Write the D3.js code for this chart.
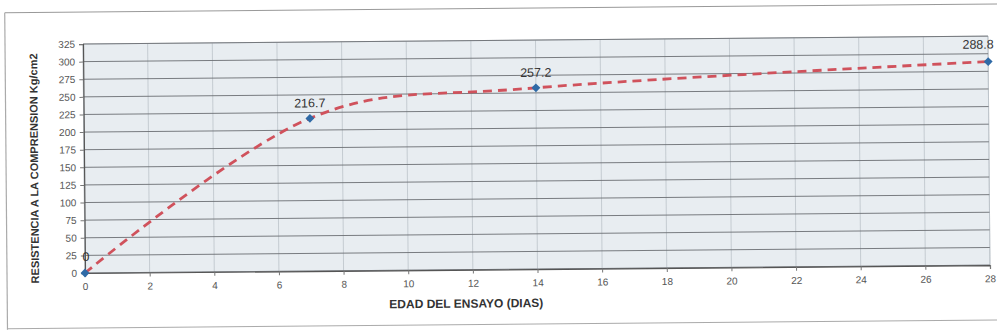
<!DOCTYPE html>
<html><head><meta charset="utf-8">
<script src="https://cdn.jsdelivr.net/npm/d3@7"></script>
<style>body{margin:0;background:#fff}svg{display:block}</style>
</head><body>
<svg id="c" width="997" height="335"></svg>
<script>
const days = [0, 7, 14, 28];
const strength = [0, 216.7, 257.2, 288.8];
const labels = ["0", "216.7", "257.2", "288.8"];
const xTicks = [0,2,4,6,8,10,12,14,16,18,20,22,24,26,28];
const yTicks = [0,25,50,75,100,125,150,175,200,225,250,275,300,325];
const xTitle = "EDAD DEL ENSAYO (DIAS)";
const yTitle = "RESISTENCIA A LA COMPRENSION Kg/cm2";

const root = d3.select("#c");
const font = "'Liberation Sans', Arial, sans-serif";
const x = d3.scaleLinear().domain([0,28]).range([85,990]);
const y = d3.scaleLinear().domain([0,325]).range([273,44]);

// scanned page is slightly tilted
const svg = root.append("g").attr("transform","rotate(-0.5,85,273)");

// frame of the document
svg.append("line").attr("x1",7).attr("x2",1010).attr("y1",12).attr("y2",12).attr("stroke","#999").attr("stroke-width",1);
svg.append("line").attr("x1",7).attr("x2",7).attr("y1",12).attr("y2",329).attr("stroke","#aaa").attr("stroke-width",1.2);
svg.append("line").attr("x1",7).attr("x2",1010).attr("y1",328).attr("y2",328).attr("stroke","#aaa").attr("stroke-width",1);

// plot area
svg.append("rect").attr("x",x(0)).attr("y",y(325)).attr("width",x(28)-x(0)).attr("height",y(0)-y(325))
  .attr("fill","#e8edf1").attr("stroke","#b8bec4").attr("stroke-width",0.8);

// vertical grid
svg.append("g").selectAll("line").data(xTicks).join("line")
  .attr("x1",d=>x(d)).attr("x2",d=>x(d)).attr("y1",y(325)).attr("y2",y(0))
  .attr("stroke","#bcc3c9").attr("stroke-width",0.8);
// horizontal grid
svg.append("g").selectAll("line").data(yTicks).join("line")
  .attr("x1",x(0)).attr("x2",x(28)).attr("y1",d=>y(d)).attr("y2",d=>y(d))
  .attr("stroke","#6b6f73").attr("stroke-width",0.9);

// axes
const xa = svg.append("g").attr("transform",`translate(0,${y(0)})`)
  .call(d3.axisBottom(x).tickValues(xTicks).tickSize(4).tickPadding(6));
const ya = svg.append("g").attr("transform",`translate(${x(0)},0)`)
  .call(d3.axisLeft(y).tickValues(yTicks).tickSize(4).tickPadding(4));
[xa,ya].forEach(a=>{
  a.select(".domain").attr("stroke","#555").attr("stroke-width",1.2);
  a.selectAll(".tick line").attr("stroke","#777");
  a.selectAll("text").attr("font-family",font).attr("font-size",10).attr("fill","#555");
});

// trend line
const pts = days.map((d,i)=>[d,strength[i]]);
const line = d3.line().x(d=>x(d[0])).y(d=>y(d[1])).curve(d3.curveCardinal.tension(0));
svg.append("path").attr("d",line(pts)).attr("fill","none")
  .attr("stroke","#d0525c").attr("stroke-width",2.8).attr("stroke-dasharray","9,6");

// markers
svg.append("g").selectAll("path").data(pts).join("path")
  .attr("transform",d=>`translate(${x(d[0])},${y(d[1])})`)
  .attr("d",d3.symbol(d3.symbolDiamond2 ? d3.symbolDiamond2 : d3.symbolDiamond,50)())
  .attr("fill","#2f6aa6");

// data labels
svg.append("g").selectAll("text").data(pts).join("text")
  .attr("x",d=>x(d[0])).attr("y",(d,i)=>y(d[1])-(i===0 ? 12 : (i===3 ? 13 : 11)))
  .attr("text-anchor","middle")
  .attr("dx",(d,i)=> i===0 ? 1 : (i===3 ? -10 : 0))
  .attr("font-family",font).attr("font-size",12.5).attr("fill","#333")
  .text((d,i)=>labels[i]);

// titles
svg.append("text").attr("x",466).attr("y",311).attr("text-anchor","middle")
  .attr("font-family",font).attr("font-size",12).attr("font-weight","bold").attr("fill","#333").text(xTitle);
svg.append("text").attr("transform","translate(39,168) rotate(-90)").attr("text-anchor","middle")
  .attr("font-family",font).attr("font-size",11).attr("font-weight","bold").attr("fill","#333").text(yTitle);
</script>
</body></html>
